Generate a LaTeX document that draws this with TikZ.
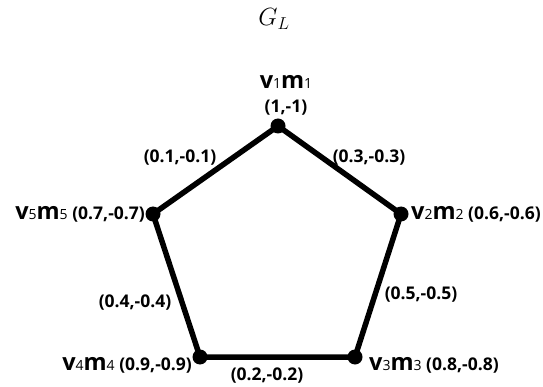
\documentclass[tikz,border=0pt]{standalone}
\usepackage{fontspec}
\setsansfont{Open Sans}
\begin{document}
\begin{tikzpicture}[x=1pt,y=-1pt,
  vert/.style={circle,fill=black,inner sep=0pt,minimum size=15pt},
  edge/.style={line width=5.5pt,line join=round},
  coordlab/.style={font=\sffamily\bfseries\fontsize{17.5}{17.5}\selectfont,inner sep=0pt},
  namelab/.style={font=\sffamily\bfseries\fontsize{17.5}{17.5}\selectfont,inner sep=0pt,anchor=base west}]
\newcommand{\vbig}[1]{{\fontsize{23.5}{23.5}\selectfont #1}}
\newcommand{\vsub}[1]{{\fontsize{14}{14}\selectfont\mdseries #1}}
\useasboundingbox (0,0) rectangle (543,387);
\node[anchor=base,font=\fontsize{24}{24}\selectfont,inner sep=0pt] (title) at (274,26) {$G_L$};
\node[vert] (v1) at (278,126) {};
\node[vert] (v2) at (401,214) {};
\node[vert] (v3) at (355,357) {};
\node[vert] (v4) at (200,357) {};
\node[vert] (v5) at (153,214) {};
\draw[edge] (v1.center) -- (v2.center) -- (v3.center) -- (v4.center) -- (v5.center) -- cycle;
% vertex labels
\node[namelab,anchor=base] (n1) at (286,89) {\vbig{v}\vsub{1}\vbig{m}\vsub{1}};
\node[coordlab] (c1) at (286,108) {(1,-1)};
\node[namelab] (n2) at (411,220) {\vbig{v}\vsub{2}\vbig{m}\vsub{2} (0.6,-0.6)};
\node[namelab,anchor=base east] (n5) at (145,220) {\vbig{v}\vsub{5}\vbig{m}\vsub{5} (0.7,-0.7)};
\node[namelab,anchor=base east] (n4) at (192,370) {\vbig{v}\vsub{4}\vbig{m}\vsub{4} (0.9,-0.9)};
\node[namelab] (n3) at (369,370) {\vbig{v}\vsub{3}\vbig{m}\vsub{3} (0.8,-0.8)};
% edge labels
\node[coordlab] (e15) at (180,158) {(0.1,-0.1)};
\node[coordlab] (e12) at (369,158) {(0.3,-0.3)};
\node[coordlab] (e45) at (135,303) {(0.4,-0.4)};
\node[coordlab] (e23) at (421,295) {(0.5,-0.5)};
\node[coordlab] (e34) at (267,376) {(0.2,-0.2)};
\end{tikzpicture}
\end{document}
